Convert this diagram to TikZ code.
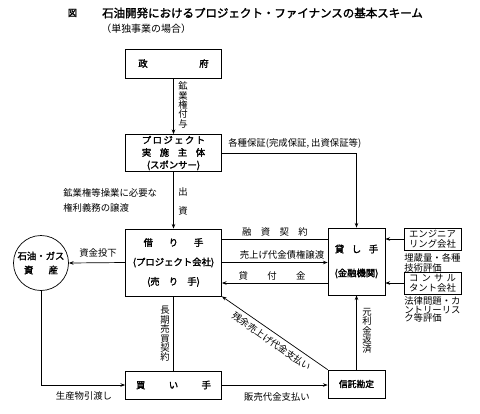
\documentclass[tikz,border=0pt]{standalone}
\usepackage{fontspec}
\setmainfont{Noto Sans CJK JP}[AutoFakeBold=2]
\usetikzlibrary{arrows.meta}
\newcommand\pxl{0.03cm}
\tikzset{
  box/.style={draw,line width=.6pt,inner sep=0pt,align=center},
  bfont/.style={font=\bfseries\fontsize{8}{#1}\selectfont},
  lbl/.style={inner sep=0pt,align=center,font=\fontsize{8}{#1}\selectfont},
  lbl/.default=8,
  arr/.style={-{Stealth[length=4pt,width=3pt]}},
}

\begin{document}
\begin{tikzpicture}[x=\pxl,y=-\pxl,line width=.6pt]
  \useasboundingbox (0,0) rectangle (480,413);
  \node[inner sep=0pt,bfont=10] (fig) at (72.5,13) {図};
  \node[inner sep=0pt,bfont=10,font=\bfseries\fontsize{9.8}{10}\selectfont] (title) at (262.5,13) {石油開発におけるプロジェクト・ファイナンスの基本スキーム};
  \node[inner sep=0pt,anchor=west,font=\fontsize{8.5}{9}\selectfont] (subtitle) at (101,29) {（単独事業の場合）};
  \node[box,bfont=8,minimum width=96*\pxl,minimum height=29*\pxl] (gov) at (173.5,63.5) {政\hspace{44pt}府};
  \node[box,bfont=10.6,minimum width=96*\pxl,minimum height=37*\pxl] (project) at (173.5,153)
    {\makebox[54pt][s]{プ\hfill ロ\hfill ジ\hfill ェ\hfill ク\hfill ト}\\
     \makebox[54pt][s]{実\hfill 施\hfill 主\hfill 体}\\(スポンサー)};
  \node[box,bfont=16.6,minimum width=96*\pxl,minimum height=67*\pxl] (borrower) at (173.5,262.5)
    {\makebox[51pt][s]{借\hfill り\hfill 手}\\(プロジェクト会社)\\\makebox[45pt][s]{(売\hfill り\hfill 手)}};
  \node[box,bfont=8,minimum width=96*\pxl,minimum height=28*\pxl] (buyer) at (173.5,385)
    {\makebox[64pt][s]{買\hfill い\hfill 手}};
  \node[box,bfont=20.4,minimum width=57*\pxl,minimum height=67*\pxl] (lender) at (356.5,261.5)
    {\makebox[37pt][s]{貸\hfill し\hfill 手}\\(金融機関)};
  \node[box,font=\bfseries\fontsize{7.5}{8}\selectfont,minimum width=57*\pxl,minimum height=28*\pxl] (trust) at (356.5,384) {信託勘定};
  \node[box,font=\fontsize{8}{8.5}\selectfont,minimum width=57*\pxl,minimum height=22*\pxl] (eng) at (432.5,239)
    {\makebox[40pt][s]{エ\hfill ン\hfill ジ\hfill ニ\hfill ア}\\リング会社};
  \node[box,font=\fontsize{8}{8.5}\selectfont,minimum width=57*\pxl,minimum height=22*\pxl] (cons) at (432.5,283)
    {\makebox[40pt][s]{コ\hfill ン\hfill サ\hfill ル}\\タント会社};
  \node[draw,circle,inner sep=0pt,minimum size=55*\pxl,align=center,bfont=12] (asset) at (41,263)
    {石油・ガス\\\makebox[29pt][s]{資\hfill 産}};
  \draw[arr] (gov) -- (project);
  \draw[arr] (project) -- (borrower);
  \draw[arr] (project.east) -| (lender.north);
  \draw[arr] (borrower.west) -- (asset.east);
  \draw[arr] (asset.south) |- (buyer.west);
  \draw (borrower.south) -- (buyer.north);
  \draw (borrower.east |- eng.west) -- (lender.west |- eng.west);
  \draw[arr] (borrower.east) -- (lender.west |- borrower.east);
  \draw[arr] (lender.west |- cons.west) -- (borrower.east |- cons.west);
  \draw[arr] (eng.west) -- (lender.east |- eng.west);
  \draw[arr] (cons.west) -- (lender.east |- cons.west);
  \draw[arr] (buyer.east) -- (trust.west |- buyer.east);
  \draw[arr] (trust.north) -- (lender.south);
  \draw[arr] (trust.north west) -- (borrower.south east);
  \node[lbl] (grant) at (183,105) {鉱\\業\\権\\付\\与};
  \node[lbl,anchor=west] (guarantee) at (228,143) {各種保証(完成保証, 出資保証等)};
  \node[lbl=12.8,anchor=west,align=left] (transfer) at (63,200.5) {鉱業権等操業に必要な\\権利義務の譲渡};
  \node[lbl=16] (equity) at (183,201.5) {出\\資};
  \node[lbl] (invest) at (98,253) {資金投下};
  \node[lbl] (loanctr) at (275,232) {\makebox[56pt][s]{融\hfill 資\hfill 契\hfill 約}};
  \node[lbl] (assign) at (282,255) {売上げ代金債権譲渡};
  \node[lbl] (loan) at (272,276) {\makebox[57pt][s]{貸\hfill 付\hfill 金}};
  \node[lbl=8.5,anchor=north west,align=left] (engnote) at (404,253) {埋蔵量・各種\\技術評価};
  \node[lbl=7.5,anchor=north west,align=left] (consnote) at (404,296) {法律問題・カ\\ントリーリス\\ク等評価};
  \node[lbl] (offtake) at (165,334) {長\\期\\売\\買\\契\\約};
  \node[lbl] (repay) at (367,331) {元\\利\\金\\返\\済};
  \node[lbl] (deliver) at (84,396) {生産物引渡し};
  \node[lbl] (sales) at (277,397) {販売代金支払い};
  \node[lbl,rotate=-35] (residual) at (271.5,341.5) {残余売上げ代金支払い};
\end{tikzpicture}
\end{document}
